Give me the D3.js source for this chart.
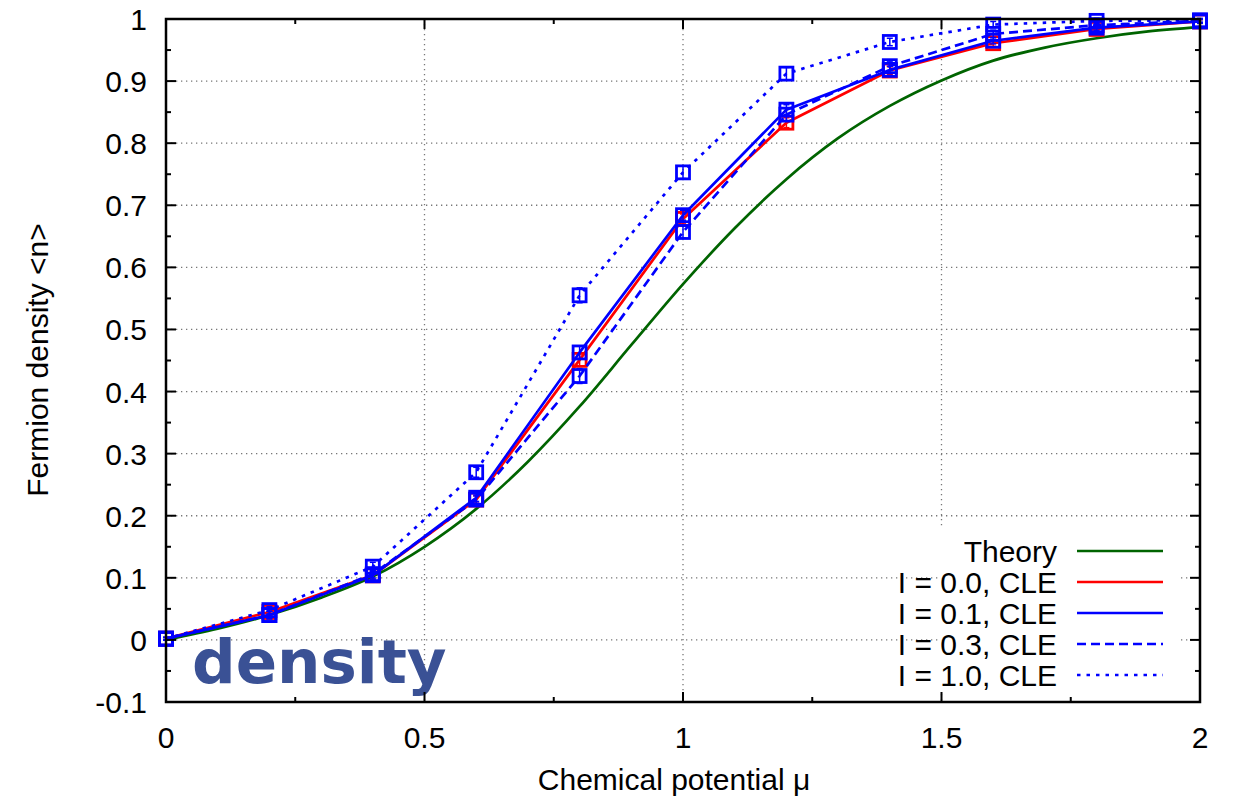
<html>
<head>
  <style>
    body{margin:0;background:#fff}
    .fd text{font-family:"Liberation Sans",Arial,sans-serif;font-size:30px;fill:#000}
    .fd .grid{stroke:#777;stroke-width:1.3px;stroke-dasharray:1.3,3.7;fill:none}
    .fd .tick{stroke:#000;stroke-width:2px}
    .fd .frame{stroke:#000;stroke-width:2.5px;fill:none}
    .fd .series{fill:none;stroke-width:2.7px;stroke-linejoin:round}
</style>
</head>

<body>
<div id="fermion"></div>
<script src="https://cdn.jsdelivr.net/npm/d3@7"></script>

<script>
// values
var mu      = [0, 0.2, 0.4, 0.6, 0.8, 1.0, 1.2, 1.4, 1.6, 1.8, 2.0];
var nI00    = [0.002, 0.045, 0.104, 0.226, 0.451, 0.678, 0.833, 0.917, 0.961, 0.984, 0.996];
var nI01    = [0.002, 0.040, 0.104, 0.229, 0.463, 0.684, 0.854, 0.918, 0.965, 0.986, 0.996];
var nI03    = [0.002, 0.040, 0.106, 0.226, 0.425, 0.657, 0.846, 0.924, 0.976, 0.990, 0.997];
var nI10    = [0.002, 0.048, 0.118, 0.270, 0.555, 0.753, 0.912, 0.963, 0.991, 0.997, 0.998];
var errI00  = [0.002, 0.006, 0.006, 0.006, 0.010, 0.008, 0.008, 0.006, 0.005, 0.004, 0.003];
var errI01  = [0.002, 0.006, 0.006, 0.006, 0.010, 0.008, 0.008, 0.006, 0.005, 0.004, 0.003];
var errI03  = [0.002, 0.006, 0.006, 0.006, 0.012, 0.010, 0.010, 0.007, 0.006, 0.004, 0.003];
var errI10  = [0.002, 0.006, 0.007, 0.008, 0.012, 0.010, 0.010, 0.006, 0.005, 0.004, 0.003];

var muTheory = [0, 0.1, 0.2, 0.3, 0.4, 0.5, 0.6, 0.7, 0.8, 0.9, 1.0,
                1.1, 1.2, 1.3, 1.4, 1.5, 1.6, 1.7, 1.8, 1.9, 2.0];
var nTheory  = [0, 0.018, 0.040, 0.068, 0.102, 0.150, 0.211, 0.287, 0.376, 0.475, 0.573,
                0.663, 0.742, 0.808, 0.860, 0.901, 0.933, 0.954, 0.969, 0.980, 0.987];

var xTicks      = [0, 0.5, 1, 1.5, 2];
var xTickLabels = ['0', '0.5', '1', '1.5', '2'];
var xMinor      = [0.25, 0.75, 1.25, 1.75];
var yTicks      = [-0.1, 0, 0.1, 0.2, 0.3, 0.4, 0.5, 0.6, 0.7, 0.8, 0.9, 1];
var yTickLabels = ['-0.1', '0', '0.1', '0.2', '0.3', '0.4', '0.5', '0.6', '0.7', '0.8', '0.9', '1'];
var yMinor      = [-0.05, 0.05, 0.15, 0.25, 0.35, 0.45, 0.55, 0.65, 0.75, 0.85, 0.95];

var seriesNames = ['Theory', 'I = 0.0, CLE', 'I = 0.1, CLE', 'I = 0.3, CLE', 'I = 1.0, CLE'];

(function () {

  var
    width   = 1236,
    height  = 800,
    left    = 166,
    right   = 1200,
    top     = 19,
    bottom  = 702,
    x       = d3.scaleLinear().domain([0, 2]).range([left, right]),
    y       = d3.scaleLinear().domain([-0.1, 1]).range([bottom, top]),
    svg     = d3.select('#fermion').append('svg')
                .attr('class', 'fd')
                .attr('width', width)
                .attr('height', height),
    grid    = svg.append('g'),
    plot    = svg.append('g'),
    axes    = svg.append('g'),
    key     = svg.append('g');

  var series = [
    {name: seriesNames[1], vals: nI00, err: errI00, color: '#ff0000', dash: null},
    {name: seriesNames[2], vals: nI01, err: errI01, color: '#0000ff', dash: null},
    {name: seriesNames[3], vals: nI03, err: errI03, color: '#0000ff', dash: '9,5'},
    {name: seriesNames[4], vals: nI10, err: errI10, color: '#0000ff', dash: '3.5,6'}
  ];

  // grid
  grid.selectAll('line.gx')
    .data(xTicks.slice(1, -1))
    .enter().append('line')
    .attr('class', 'grid')
    .attr('x1', function (d) { return x(d); })
    .attr('x2', function (d) { return x(d); })
    .attr('y1', top)
    .attr('y2', bottom);

  grid.selectAll('line.gy')
    .data(yTicks.slice(1, -1))
    .enter().append('line')
    .attr('class', 'grid')
    .attr('x1', left)
    .attr('x2', right)
    .attr('y1', function (d) { return y(d); })
    .attr('y2', function (d) { return y(d); });

  // watermark
  plot.append('text')
    .text('density')
    .attr('x', 192)
    .attr('y', 683)
    .style('font-family', '"DejaVu Sans", sans-serif')
    .style('font-weight', 'bold')
    .style('font-size', '61px')
    .style('fill', '#3a5195');

  // theory curve
  var theoryLine = d3.line()
    .x(function (d, i) { return x(muTheory[i]); })
    .y(function (d) { return y(d); })
    .curve(d3.curveMonotoneX);

  plot.append('path')
    .attr('class', 'series')
    .attr('d', theoryLine(nTheory))
    .style('stroke', '#006400');

  var dataLine = d3.line()
    .x(function (d, i) { return x(mu[i]); })
    .y(function (d) { return y(d); });

  series.forEach(function (s) {
    var g = plot.append('g');

    g.append('path')
      .attr('class', 'series')
      .attr('d', dataLine(s.vals))
      .style('stroke', s.color)
      .style('stroke-dasharray', s.dash);

    // error bars
    g.selectAll('line.eb')
      .data(s.vals)
      .enter().append('line')
      .attr('x1', function (d, i) { return x(mu[i]); })
      .attr('x2', function (d, i) { return x(mu[i]); })
      .attr('y1', function (d, i) { return y(d - s.err[i]); })
      .attr('y2', function (d, i) { return y(d + s.err[i]); })
      .style('stroke', s.color)
      .style('stroke-width', '1.5px');

    g.selectAll('line.ecap')
      .data(s.vals.concat(s.vals))
      .enter().append('line')
      .attr('x1', function (d, i) { return x(mu[i % mu.length]) - 3; })
      .attr('x2', function (d, i) { return x(mu[i % mu.length]) + 3; })
      .attr('y1', function (d, i) { var k = i % mu.length, sg = i < mu.length ? -1 : 1; return y(d + sg * s.err[k]); })
      .attr('y2', function (d, i) { var k = i % mu.length, sg = i < mu.length ? -1 : 1; return y(d + sg * s.err[k]); })
      .style('stroke', s.color)
      .style('stroke-width', '1.5px');

    // open squares
    g.selectAll('rect')
      .data(s.vals)
      .enter().append('rect')
      .attr('x', function (d, i) { return x(mu[i]) - 6.5; })
      .attr('y', function (d) { return y(d) - 6.5; })
      .attr('width', 13)
      .attr('height', 13)
      .style('fill', 'none')
      .style('stroke', s.color)
      .style('stroke-width', '2.8px');
  });

  // frame + ticks on all four sides
  axes.append('rect')
    .attr('class', 'frame')
    .attr('x', left)
    .attr('y', top)
    .attr('width', right - left)
    .attr('height', bottom - top);

  function xTick(vals, len) {
    vals.forEach(function (v) {
      axes.append('line').attr('class', 'tick')
        .attr('x1', x(v)).attr('x2', x(v)).attr('y1', bottom).attr('y2', bottom - len);
      axes.append('line').attr('class', 'tick')
        .attr('x1', x(v)).attr('x2', x(v)).attr('y1', top).attr('y2', top + len);
    });
  }
  function yTick(vals, len) {
    vals.forEach(function (v) {
      axes.append('line').attr('class', 'tick')
        .attr('x1', left).attr('x2', left + len).attr('y1', y(v)).attr('y2', y(v));
      axes.append('line').attr('class', 'tick')
        .attr('x1', right).attr('x2', right - len).attr('y1', y(v)).attr('y2', y(v));
    });
  }
  xTick(xTicks, 10);
  xTick(xMinor, 5);
  yTick(yTicks, 10);
  yTick(yMinor, 5);

  axes.selectAll('text.xl')
    .data(xTicks)
    .enter().append('text')
    .attr('x', function (d) { return x(d); })
    .attr('y', 748)
    .attr('text-anchor', 'middle')
    .text(function (d, i) { return xTickLabels[i]; });

  axes.selectAll('text.yl')
    .data(yTicks)
    .enter().append('text')
    .attr('x', 147)
    .attr('y', function (d) { return y(d) + 11; })
    .attr('text-anchor', 'end')
    .text(function (d, i) { return yTickLabels[i]; });

  axes.append('text')
    .attr('x', 674)
    .attr('y', 790)
    .attr('text-anchor', 'middle')
    .text('Chemical potential \u03bc');

  axes.append('text')
    .attr('transform', 'translate(48,360) rotate(-90)')
    .attr('text-anchor', 'middle')
    .text('Fermion density <n>');

  // key (opaque box, no border)
  key.append('rect')
    .attr('x', 940)
    .attr('y', 528)
    .attr('width', 240)
    .attr('height', 164)
    .style('fill', '#fff');

  var keyItems = [{name: seriesNames[0], color: '#006400', dash: null}].concat(series);

  keyItems.forEach(function (s, i) {
    var ky = 551 + i * 31;
    key.append('text')
      .attr('x', 1057)
      .attr('y', ky + 11)
      .attr('text-anchor', 'end')
      .text(s.name);
    key.append('line')
      .attr('x1', 1077)
      .attr('x2', 1163)
      .attr('y1', ky)
      .attr('y2', ky)
      .style('stroke', s.color)
      .style('stroke-width', '2.7px')
      .style('stroke-dasharray', s.dash);
  });

})();
</script>

</body>
</html>
